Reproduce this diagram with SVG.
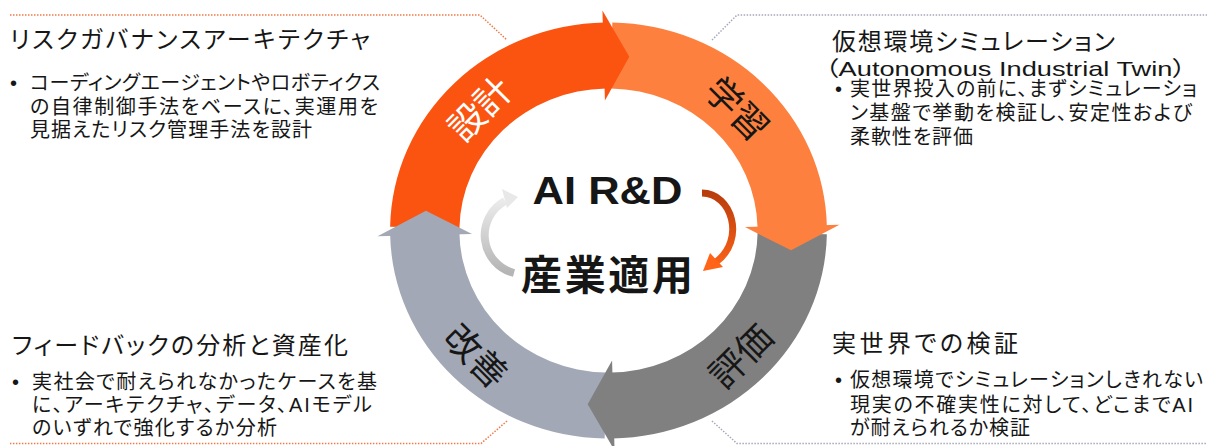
<svg xmlns="http://www.w3.org/2000/svg" width="1213" height="446" viewBox="0 0 1213 446">
<style>
text{font-family:"Liberation Sans","Noto Sans CJK JP",sans-serif;fill:#161616;font-feature-settings:"palt"}
.t{font-size:24px}
.b{font-size:20px}
.seg{font-family:"Noto Sans CJK JP",sans-serif;font-size:36px;text-anchor:middle;dominant-baseline:central}
.dotO{fill:none;stroke:#F07A45;stroke-width:1.5;stroke-dasharray:1.5 1.5}
.dotG{fill:none;stroke:#A6A8B8;stroke-width:1.5;stroke-dasharray:1.5 1.5}
</style>
<defs>
<path id="body" d="M -207.97 -3.63 A 208 208 0 0 1 -3.63 -207.97 L -2.48 -141.98 A 142 142 0 0 0 -141.98 -2.48 Z"/>
<path id="head" d="M -5.76 -219.93 L 19.81 -173.87 L -3.40 -129.96 Z"/>
<linearGradient id="gG" gradientUnits="userSpaceOnUse" x1="0" y1="195" x2="0" y2="272">
<stop offset="0" stop-color="#EFEFEF"/><stop offset="1" stop-color="#B5B5B5"/>
</linearGradient>
<linearGradient id="gO" gradientUnits="userSpaceOnUse" x1="0" y1="192" x2="0" y2="270">
<stop offset="0" stop-color="#B83C0C"/><stop offset="1" stop-color="#FF6418"/>
</linearGradient>
</defs>
<rect width="1213" height="446" fill="#fff"/>
<g id="cycle" transform="translate(608.5,230.5) scale(1.05,1)">
<use href="#body" fill="#FB5410"/>
<use href="#body" fill="#FE803E" transform="rotate(90)"/>
<use href="#body" fill="#808080" transform="rotate(180)"/>
<use href="#body" fill="#A2A8B5" transform="rotate(270)"/>
<use href="#head" fill="#FB5410"/>
<use href="#head" fill="#FE803E" transform="rotate(90)"/>
<use href="#head" fill="#808080" transform="rotate(180)"/>
<use href="#head" fill="#A2A8B5" transform="rotate(270)"/>
</g>
<g id="seg-design"><text class="seg" transform="translate(478,107) rotate(-45)" style="fill:#fff">設計</text></g>
<g id="seg-learn"><text class="seg" transform="translate(739,107) rotate(45)">学習</text></g>
<g id="seg-eval"><text class="seg" transform="translate(739,354) rotate(-45)">評価</text></g>
<g id="seg-improve"><text class="seg" transform="translate(478,354) rotate(45)">改善</text></g>
<g id="center">
<text x="607.5" y="204" text-anchor="middle" font-weight="bold" style="font-size:38px" textLength="150" lengthAdjust="spacingAndGlyphs">AI R&amp;D</text>
<text x="607" y="290" text-anchor="middle" font-weight="bold" style="font-family:'Noto Sans CJK JP',sans-serif;font-size:41px" textLength="172">産業適用</text>
</g>
<g id="connectors">
<polyline class="dotO" points="10,15 480,15 507,40"/>
<polyline class="dotG" points="712,40 737,15 1207,15"/>
<polyline class="dotO" points="507,421 481,443.5 10,443.5"/>
<polyline class="dotG" points="712,421 737,443.5 1207,443.5"/>
<path d="M 514 273 A 39 39 0 0 1 505 201" fill="none" stroke="url(#gG)" stroke-width="8"/>
<path d="M 518 197 L 502 189 L 507 208 Z" fill="#E8E8E8"/>
<path d="M 702 193 C 732 193 746 240 716 262" fill="none" stroke="url(#gO)" stroke-width="7"/>
<path d="M 703 271 L 710 253 L 723 267 Z" fill="#FF6418"/>
</g>
<g id="note-tl">
<text class="t" x="10" y="48" textLength="360">リスクガバナンスアーキテクチャ</text>
<text class="b" x="10" y="90">•</text>
<text class="b" x="30" y="90" textLength="350">コーディングエージェントやロボティクス</text>
<text class="b" x="30" y="114" textLength="348">の自律制御手法をベースに、実運用を</text>
<text class="b" x="30" y="137" textLength="282">見据えたリスク管理手法を設計</text>
</g>
<g id="note-tr">
<text class="t" x="832" y="50" textLength="283">仮想環境シミュレーション</text>
<text x="825" y="76" style="font-size:21px" textLength="361" lengthAdjust="spacingAndGlyphs">（Autonomous Industrial Twin）</text>
<text class="b" x="835" y="96">•</text>
<text class="b" x="850" y="96" textLength="347">実世界投入の前に、まずシミュレーショ</text>
<text class="b" x="850" y="120" textLength="342">ン基盤で挙動を検証し、安定性および</text>
<text class="b" x="850" y="144" textLength="123">柔軟性を評価</text>
</g>
<g id="note-bl">
<text class="t" x="12" y="354" textLength="336">フィードバックの分析と資産化</text>
<text class="b" x="12" y="389">•</text>
<text class="b" x="32" y="389" textLength="345">実社会で耐えられなかったケースを基</text>
<text class="b" x="32" y="412" textLength="340">に、アーキテクチャ、データ、AIモデル</text>
<text class="b" x="32" y="435" textLength="245">のいずれで強化するか分析</text>
</g>
<g id="note-br">
<text class="t" x="832" y="352" textLength="186">実世界での検証</text>
<text class="b" x="835" y="387">•</text>
<text class="b" x="850" y="387" textLength="353">仮想環境でシミュレーションしきれない</text>
<text class="b" x="850" y="412" textLength="343">現実の不確実性に対して、どこまでAI</text>
<text class="b" x="850" y="435" textLength="180">が耐えられるか検証</text>
</g>
</svg>
